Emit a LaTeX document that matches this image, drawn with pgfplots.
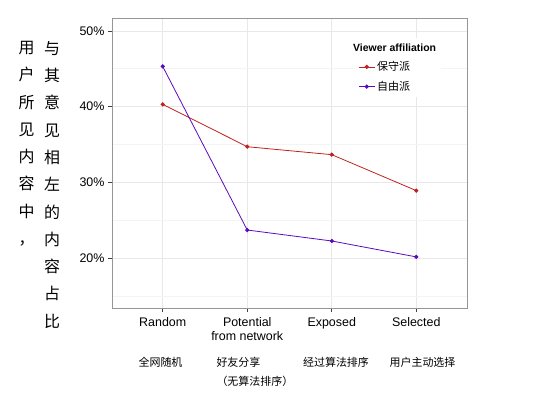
\documentclass[border=0pt]{standalone}
\usepackage{fontspec}
\setmainfont{Liberation Sans}
\newfontfamily\cjk{Noto Sans CJK SC}
\usepackage{pgfplots}
\pgfplotsset{compat=1.18}
\definecolor{cons}{RGB}{190,35,30}
\definecolor{lib}{RGB}{90,10,190}
\definecolor{gridmaj}{RGB}{232,232,232}
\definecolor{gridmin}{RGB}{244,244,244}
\definecolor{bordc}{RGB}{150,150,150}
\begin{document}
\begin{tikzpicture}[x=1bp,y=1bp]
\useasboundingbox (0,0) rectangle (545,394);
\begin{axis}[
  at={(112bp,86bp)}, anchor=south west, scale only axis,
  width=355bp, height=290bp,
  xmin=0.4, xmax=4.6, ymin=13.4, ymax=51.7,
  xtick={1,2,3,4},
  xticklabels={Random,{Potential\\from network},Exposed,Selected},
  xticklabel style={align=center, font=\fontsize{12.5}{13.5}\selectfont, yshift=-2bp},
  ytick={20,30,40,50}, yticklabels={20\%,30\%,40\%,50\%},
  minor ytick={15,25,35,45},
  yticklabel style={font=\fontsize{12.5}{13.5}\selectfont},
  tick align=outside, major tick length=4bp, minor tick length=0pt,
  tick style={color=black!75, line width=0.6pt},
  xtick pos=left, ytick pos=left,
  grid=both,
  major grid style={gridmaj, line width=0.6pt},
  minor grid style={gridmin, line width=0.5pt},
  axis line style={bordc, line width=0.6pt},
  legend style={at={(rel axis cs:0.685,0.93)}, anchor=north west, draw=none, fill=white,
    font=\cjk\fontsize{11}{13}\selectfont, row sep=5bp, inner xsep=3bp, inner ysep=3bp},
  legend cell align=left,
  legend image code/.code={\draw[mark repeat=2,mark phase=2,#1] plot coordinates {(0bp,0bp) (8bp,0bp) (16bp,0bp)};},
]
\addlegendimage{empty legend}
\addlegendentry{\hspace*{-24bp}\normalfont\bfseries\fontsize{10.5}{12}\selectfont Viewer affiliation}
\addplot[cons, line width=0.8pt, mark=*, mark size=1.7pt] coordinates {(1,40.3) (2,34.7) (3,33.65) (4,28.9)};
\addlegendentry{保守派}
\addplot[lib, line width=0.8pt, mark=*, mark size=1.7pt] coordinates {(1,45.3) (2,23.7) (3,22.25) (4,20.15)};
\addlegendentry{自由派}
\end{axis}
\node[font=\cjk\fontsize{11}{13}\selectfont] at (160.5,31.3) {全网随机};
\node[font=\cjk\fontsize{11}{19}\selectfont, align=left, anchor=west] at (213,22) {好友分享\\（无算法排序）};
\node[font=\cjk\fontsize{11}{13}\selectfont] at (336,31.3) {经过算法排序};
\node[font=\cjk\fontsize{11}{13}\selectfont] at (422.5,31.3) {用户主动选择};
\node[font=\cjk\fontsize{16}{27.4}\selectfont, align=center, anchor=north, inner sep=0pt] at (26.7,353) {用\\户\\所\\见\\内\\容\\中\\，};
\node[font=\cjk\fontsize{16}{27.4}\selectfont, align=center, anchor=north, inner sep=0pt] at (52,353) {与\\其\\意\\见\\相\\左\\的\\内\\容\\占\\比};
\end{tikzpicture}
\end{document}
